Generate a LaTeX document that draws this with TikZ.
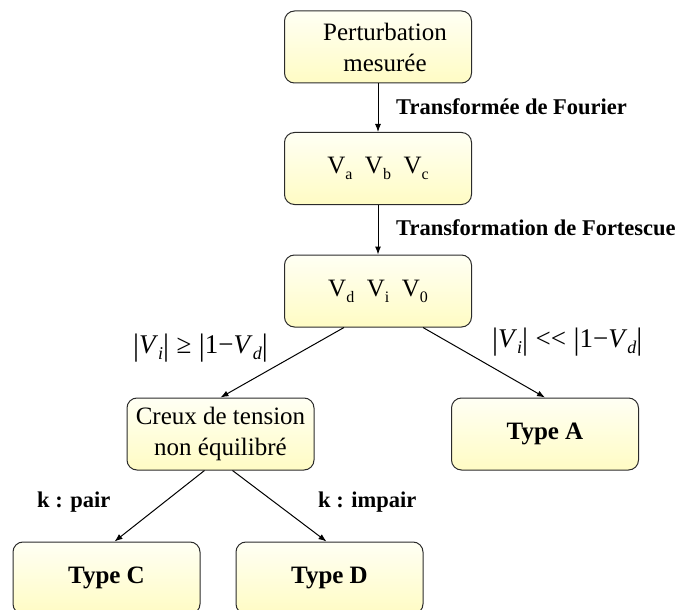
\documentclass[tikz,border=0pt]{standalone}
\usepackage{fontspec}
\setmainfont{Liberation Serif}
\usetikzlibrary{arrows.meta,calc}
\definecolor{Cream}{HTML}{FFFFF4}
\definecolor{Butter}{HTML}{FFFCC4}
\definecolor{Frame}{HTML}{2B2B2B}
\newcommand{\idx}[1]{\raisebox{-6pt}{\fontsize{16}{16}\selectfont #1}}
\newcommand{\iidx}[1]{\raisebox{-6pt}{\fontsize{18}{18}\selectfont\itshape #1}}
\newcommand{\absbar}{\raisebox{-2pt}{\scalebox{1.1}[1.15]{|}}}

\begin{document}
\begin{tikzpicture}[x=1pt,y=-1pt]
    \tikzset{stage/.style={rounded corners=10pt,top color=Cream,bottom color=Butter,draw=Frame,
      line width=1pt,minimum width=187pt,minimum height=72pt,align=center,
      font=\fontsize{25}{31}\selectfont},
      flow/.style={-{Latex[length=8pt,width=6pt]},line width=1pt},
      cond/.style={inner sep=0pt,font=\fontsize{22.5}{26}\selectfont\bfseries},
      rule/.style={inner sep=0pt,font=\fontsize{27}{30}\selectfont}}
    \useasboundingbox (0,0) rectangle (681,610);

    % Boxes
    \foreach \x/\y/\id/\txt in {378/47/mesure/{\hspace*{14pt}Perturbation\\\hspace*{14pt}mesurée},
                                378/168.5/abc/{V\idx{a}~~V\idx{b}~~V\idx{c}},
                                378/291/dio/{V\idx{d}~~V\idx{i}~~V\idx{0}},
                                220.5/434/creux/{Creux de tension\\non équilibré},
                                545/434/typeA/{\textbf{Type A}},
                                106.5/578/typeC/{\textbf{Type C}},
                                329.5/578/typeD/{\textbf{Type D}}}{
      \node[stage] (\id) at (\x,\y) {\txt};
    }

    % Transforms
    \draw[flow] (mesure.south) -- (abc.north);
    \node[cond,anchor=base west] (fourier) at (396,115) {Transformée de Fourier};
    \draw[flow] (abc.south) -- (dio.north);
    \node[cond,anchor=base west] (fortescue) at (396,235) {Transformation de Fortescue};

    % Classification
    \draw[flow] ($(dio.south)+(-34,0)$) -- (creux.north);
    \draw[flow] ($(dio.south)+(45,0)$) -- (typeA.north);
    \node[rule,anchor=base west] (ge) at (133,353)
      {\absbar\textit{V}\iidx{i}\absbar\;≥\;\absbar 1−\textit{V}\iidx{d}\absbar};
    \node[rule,anchor=base west] (ll) at (492,347)
      {\absbar\textit{V}\iidx{i}\absbar\;<{}<\;\absbar 1−\textit{V}\iidx{d}\absbar};

    % Unbalanced sags
    \draw[flow] ($(creux.south)+(-16,0)$) -- ($(typeC.north)+(8,0)$);
    \draw[flow] ($(creux.south)+(12,0)$) -- ($(typeD.north)+(-3,0)$);
    \node[cond,anchor=base west] (pair) at (37,507) {k : pair};
    \node[cond,anchor=base west] (impair) at (318,507) {k : impair};
  \end{tikzpicture}
\end{document}
